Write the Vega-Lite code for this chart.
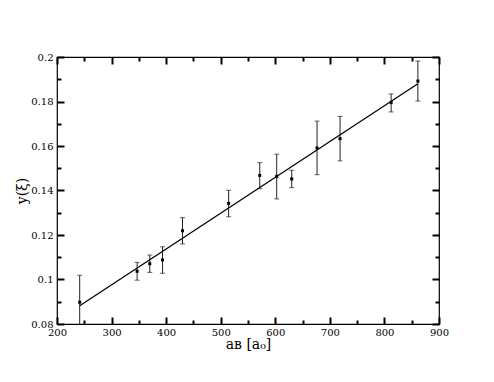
{
  "$schema": "https://vega.github.io/schema/vega-lite/v6.json",
  "width": 382,
  "height": 267,
  "autosize": {"type": "none"},
  "padding": {"left": 57, "top": 57, "right": 55, "bottom": 58},
  "background": "white",
  "config": {
    "view": {"stroke": "black", "strokeWidth": 1.2},
    "axis": {
      "grid": false,
      "domain": false,
      "labelFlush": false,
      "labelOverlap": false,
      "labelFont": "DejaVu Serif",
      "titleFont": "DejaVu Serif",
      "labelFontSize": 10,
      "titleFontSize": 14,
      "titleFontWeight": "normal",
      "labelColor": "black",
      "titleColor": "black",
      "tickColor": "black",
      "tickWidth": 2
    }
  },
  "datasets": {
    "pts": [
      {"aB": 241.6, "y": 0.0898, "lo": 0.0777, "hi": 0.1019},
      {"aB": 346.8, "y": 0.1037, "lo": 0.0997, "hi": 0.1077},
      {"aB": 370.0, "y": 0.1071, "lo": 0.1032, "hi": 0.1110},
      {"aB": 393.4, "y": 0.1088, "lo": 0.1028, "hi": 0.1147},
      {"aB": 430.0, "y": 0.1219, "lo": 0.1160, "hi": 0.1278},
      {"aB": 514.5, "y": 0.1342, "lo": 0.1282, "hi": 0.1401},
      {"aB": 571.5, "y": 0.1468, "lo": 0.1408, "hi": 0.1525},
      {"aB": 602.6, "y": 0.1464, "lo": 0.1362, "hi": 0.1563},
      {"aB": 630.1, "y": 0.1452, "lo": 0.1413, "hi": 0.1491},
      {"aB": 676.5, "y": 0.1591, "lo": 0.1471, "hi": 0.1712},
      {"aB": 718.7, "y": 0.1633, "lo": 0.1533, "hi": 0.1733},
      {"aB": 812.3, "y": 0.1795, "lo": 0.1753, "hi": 0.1834},
      {"aB": 861.3, "y": 0.1892, "lo": 0.1802, "hi": 0.1982}
    ],
    "fit": [
      {"aB": 241.6, "y": 0.0882},
      {"aB": 861.3, "y": 0.1880}
    ]
  },
  "resolve": {"axis": {"x": "independent", "y": "independent"}},
  "layer": [
    {
      "data": {"name": "pts"},
      "mark": {"type": "rule", "color": "#222222", "strokeWidth": 1, "clip": true},
      "encoding": {
        "x": {"field": "aB", "type": "quantitative", "scale": {"domain": [200, 900], "nice": false, "zero": false},
          "axis": {"orient": "bottom", "values": [200, 300, 400, 500, 600, 700, 800, 900], "ticks": false, "labelPadding": 3, "title": "aʙ [a₀]", "titlePadding": 0}},
        "y": {"field": "lo", "type": "quantitative", "scale": {"domain": [0.08, 0.2], "nice": false, "zero": false},
          "axis": {"orient": "left", "values": [0.08, 0.1, 0.12, 0.14, 0.16, 0.18, 0.2], "format": ".2~f", "ticks": false, "labelPadding": 4, "title": "y(ξ)", "titlePadding": 1}},
        "y2": {"field": "hi"}
      }
    },
    {
      "data": {"name": "pts"},
      "mark": {"type": "tick", "color": "#222222", "thickness": 1, "size": 5, "orient": "horizontal", "clip": true},
      "encoding": {
        "x": {"field": "aB", "type": "quantitative",
          "axis": {"orient": "bottom", "values": [200, 300, 400, 500, 600, 700, 800, 900], "tickSize": 7, "offset": -7, "labels": false, "title": null}},
        "y": {"field": "lo", "type": "quantitative",
          "axis": {"orient": "left", "values": [0.08, 0.1, 0.12, 0.14, 0.16, 0.18, 0.2], "tickSize": 7, "offset": -7, "labels": false, "title": null}}
      }
    },
    {
      "data": {"name": "pts"},
      "mark": {"type": "tick", "color": "#222222", "thickness": 1, "size": 5, "orient": "horizontal", "clip": true},
      "encoding": {
        "x": {"field": "aB", "type": "quantitative",
          "axis": {"orient": "bottom", "values": [250, 350, 450, 550, 650, 750, 850], "tickSize": 4, "offset": -4, "labels": false, "title": null}},
        "y": {"field": "hi", "type": "quantitative",
          "axis": {"orient": "left", "values": [0.09, 0.11, 0.13, 0.15, 0.17, 0.19], "tickSize": 4, "offset": -4, "labels": false, "title": null}}
      }
    },
    {
      "data": {"name": "pts"},
      "mark": {"type": "point", "shape": "square", "filled": true, "color": "black", "size": 9, "opacity": 1},
      "encoding": {
        "x": {"field": "aB", "type": "quantitative",
          "axis": {"orient": "top", "values": [200, 300, 400, 500, 600, 700, 800, 900], "tickSize": 7, "offset": -7, "labels": false, "title": null}},
        "y": {"field": "y", "type": "quantitative",
          "axis": {"orient": "right", "values": [0.08, 0.1, 0.12, 0.14, 0.16, 0.18, 0.2], "tickSize": 7, "offset": -7, "labels": false, "title": null}}
      }
    },
    {
      "data": {"name": "fit"},
      "mark": {"type": "line", "color": "black", "strokeWidth": 1.3},
      "encoding": {
        "x": {"field": "aB", "type": "quantitative",
          "axis": {"orient": "top", "values": [250, 350, 450, 550, 650, 750, 850], "tickSize": 4, "offset": -4, "labels": false, "title": null}},
        "y": {"field": "y", "type": "quantitative",
          "axis": {"orient": "right", "values": [0.09, 0.11, 0.13, 0.15, 0.17, 0.19], "tickSize": 4, "offset": -4, "labels": false, "title": null}}
      }
    }
  ]
}
